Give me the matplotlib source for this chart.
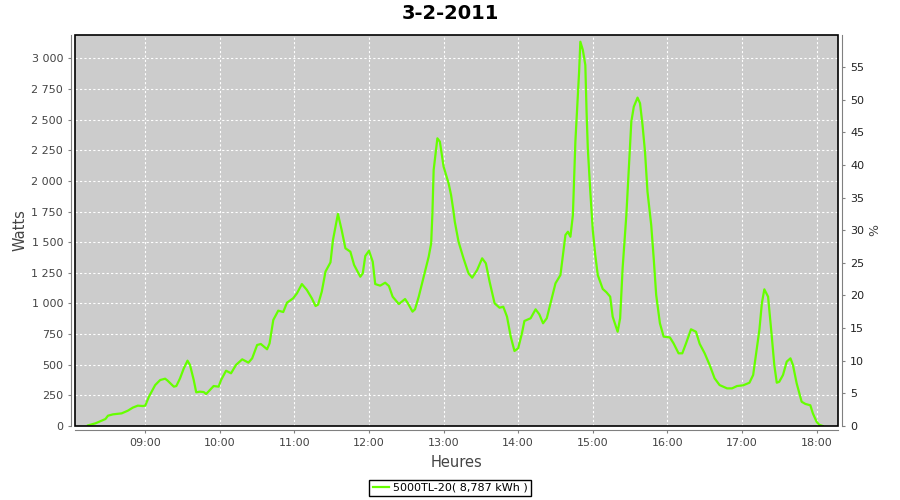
import matplotlib
matplotlib.use("Agg")
import matplotlib.pyplot as plt
import matplotlib.dates as mdates
from matplotlib.ticker import FuncFormatter, MultipleLocator
from matplotlib.patches import Rectangle
import pandas as pd

# ---- données ----
DAY = "2011-02-03"
heures = [
    "08:14", "08:20", "08:28", "08:30", "08:34", "08:41", "08:46", "08:50", "08:54", "08:58",
    "09:00", "09:03", "09:08", "09:12", "09:16", "09:18", "09:23", "09:25", "09:28", "09:31",
    "09:34", "09:36", "09:39", "09:41", "09:44", "09:47", "09:49", "09:55", "09:59", "10:01",
    "10:05", "10:09", "10:13", "10:18", "10:23", "10:26", "10:30", "10:33", "10:38", "10:40",
    "10:43", "10:47", "10:51", "10:54", "10:59", "11:02", "11:06", "11:10", "11:14", "11:17",
    "11:19", "11:22", "11:25", "11:29", "11:31", "11:35", "11:38", "11:41", "11:45", "11:48",
    "11:53", "11:55", "11:57", "12:00", "12:03", "12:05", "12:09", "12:13", "12:16", "12:19",
    "12:24", "12:29", "12:31", "12:35", "12:37", "12:40", "12:44", "12:48", "12:50", "12:51",
    "12:52", "12:55", "12:57", "13:00", "13:04", "13:06", "13:08", "13:09", "13:12", "13:16",
    "13:20", "13:23", "13:27", "13:31", "13:34", "13:37", "13:41", "13:45", "13:48", "13:51",
    "13:54", "13:57", "14:00", "14:03", "14:05", "14:10", "14:14", "14:17", "14:20", "14:23",
    "14:27", "14:30", "14:34", "14:36", "14:38", "14:40", "14:42", "14:44", "14:46", "14:49",
    "14:50", "14:52", "14:54", "14:55", "14:56", "14:58", "15:00", "15:02", "15:04", "15:08",
    "15:11", "15:14", "15:16", "15:20", "15:22", "15:24", "15:27", "15:29", "15:31", "15:33",
    "15:36", "15:38", "15:40", "15:42", "15:44", "15:47", "15:49", "15:51", "15:54", "15:57",
    "16:02", "16:05", "16:09", "16:12", "16:15", "16:19", "16:23", "16:26", "16:30", "16:34",
    "16:38", "16:42", "16:48", "16:52", "16:56", "17:01", "17:06", "17:09", "17:11", "17:14",
    "17:16", "17:18", "17:21", "17:22", "17:24", "17:26", "17:28", "17:30", "17:33", "17:36",
    "17:39", "17:41", "17:44", "17:48", "17:51", "17:55", "17:57", "18:00", "18:02", "18:05",
]
watts = [
    5, 22, 57, 84, 95, 103, 125, 150, 166, 163,
    166, 240, 334, 375, 386, 370, 321, 326, 389, 470,
    533, 498, 375, 275, 280, 277, 261, 326, 321, 375,
    451, 430, 498, 544, 517, 552, 661, 669, 626, 674,
    865, 941, 930, 1006, 1042, 1082, 1158, 1110, 1042, 979,
    990, 1096, 1260, 1335, 1517, 1730, 1599, 1450, 1422, 1314,
    1218, 1246, 1387, 1430, 1340, 1158, 1145, 1169, 1142, 1055,
    995, 1036, 1006, 933, 952, 1055, 1218, 1381, 1490, 1735,
    2089, 2347, 2320, 2116, 1980, 1885, 1748, 1667, 1504, 1368,
    1246, 1210, 1273, 1368, 1327, 1177, 1001, 965, 973, 892,
    729, 612, 634, 756, 857, 879, 952, 911, 838, 879,
    1042, 1164, 1232, 1395, 1558, 1585, 1544, 1721, 2320, 2891,
    3135, 3068, 2945, 2564, 2266, 1912, 1599, 1395, 1232, 1118,
    1091, 1055, 892, 769, 879, 1287, 1721, 2102, 2483, 2605,
    2679, 2633, 2456, 2238, 1912, 1640, 1368, 1069, 838, 729,
    723, 674, 593, 593, 674, 789, 769, 670, 593, 498,
    389, 334, 307, 307, 326, 332, 353, 416, 565, 783,
    1001, 1115, 1055, 946, 729, 498, 353, 361, 416, 525,
    552, 498, 348, 198, 180, 169, 104, 35, 11, 0,
]
serie = "5000TL-20( 8,787 kWh )"
titre = "3-2-2011"

t = pd.to_datetime([DAY + " " + h for h in heures])

# ---- figure ----
fig = plt.figure(figsize=(9, 5), dpi=100)
ax = fig.add_axes([75 / 900, 74 / 500, 763 / 900, 391 / 500])
ax.set_facecolor("#cccccc")

ax.plot(t, watts, color="#66ff00", lw=1.6, label=serie, zorder=3)

ax.set_xlim(pd.Timestamp(DAY + " 08:03:30"), pd.Timestamp(DAY + " 18:17:15"))
ax.set_ylim(0, 3190)
ax.xaxis.set_major_locator(mdates.HourLocator())
ax.xaxis.set_major_formatter(mdates.DateFormatter("%H:%M"))
ax.yaxis.set_major_locator(MultipleLocator(250))
ax.yaxis.set_major_formatter(FuncFormatter(lambda v, p: f"{int(v):,}".replace(",", " ")))

ax.grid(True, color="white", lw=0.8, ls=(0, (2, 2)), zorder=1)
ax.set_axisbelow(True)

grey = "#808080"
for s in ("left", "bottom"):
    ax.spines[s].set_position(("outward", 2.6))
    ax.spines[s].set_color(grey)
ax.spines["top"].set_visible(False)
ax.spines["right"].set_visible(False)
ax.add_patch(Rectangle((0, 0), 1, 1, transform=ax.transAxes, fill=False,
                       edgecolor="black", lw=1.2, zorder=4, clip_on=False))
ax.tick_params(axis="both", colors=grey, labelcolor="#444444", labelsize=8,
               length=2.5, width=0.8)

ax.set_xlabel("Heures", fontsize=10.5, color="#444444", labelpad=5)
ax.set_ylabel("Watts", fontsize=10.5, color="#444444", labelpad=3)

# axe de droite (%)
ax2 = ax.twinx()
ax2.set_ylim(0, 59.9)
ax2.yaxis.set_major_locator(MultipleLocator(5))
for s in ("left", "bottom", "top"):
    ax2.spines[s].set_visible(False)
ax2.spines["right"].set_position(("outward", 2.6))
ax2.spines["right"].set_color(grey)
ax2.tick_params(axis="y", colors=grey, labelcolor="#222222", labelsize=8,
                length=2.5, width=0.8)
ax2.set_ylabel("%", fontsize=9, color="#444444", labelpad=3)

fig.text(0.5, 0.973, titre, ha="center", va="center", fontsize=14, fontweight="bold")

fig.legend(loc="center", bbox_to_anchor=(0.5, 1 - 488 / 500), fontsize=8,
           fancybox=False, edgecolor="black", framealpha=1, handlelength=1.5,
           handletextpad=0.3, borderpad=0.3, borderaxespad=0)

fig.savefig("out.png", dpi=100)
